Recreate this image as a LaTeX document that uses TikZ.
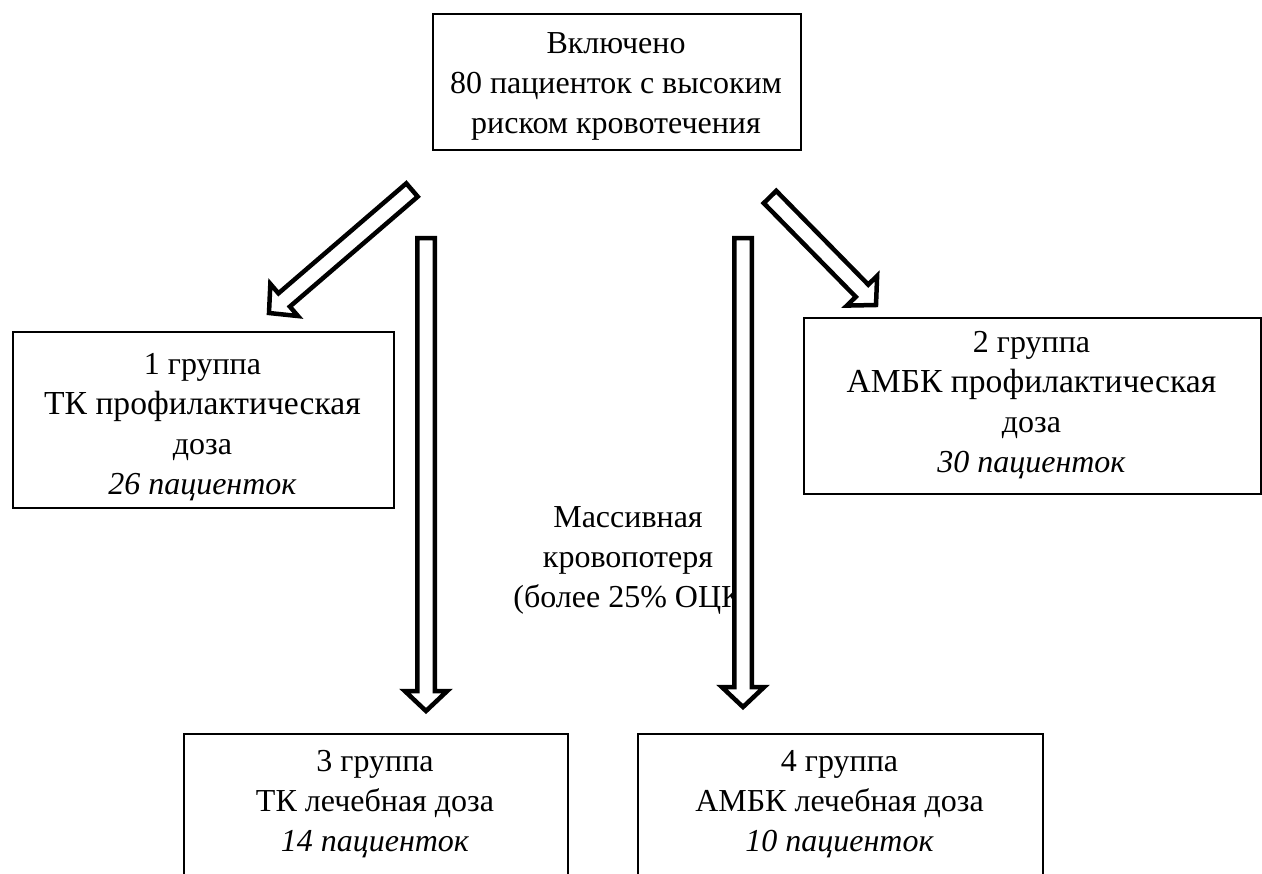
\documentclass[tikz,border=0pt]{standalone}
\usepackage{fontspec}
\setmainfont{Liberation Serif}
\usetikzlibrary{calc}
\tikzset{
  txt/.style={align=center, inner sep=0pt, font=\fontsize{16}{20}\selectfont},
  box/.style={draw, line width=1pt, anchor=north west, inner sep=0pt},
  barrow/.style={draw, fill=white, line width=2.25pt, miter limit=10},
}
\newcommand\bigline{\fontsize{16.8}{20}\selectfont}
\newcommand\bashaft{4.375pt}
\newcommand\bahead{10.6pt}
\newcommand\balen{10pt}
\newcommand\blockarr[2]{%
  \coordinate (hb) at ($(#2)!\balen!(#1)$);
  \draw[barrow] ($(#1)!\bashaft!90:(#2)$) -- ($(hb)!\bashaft!90:(#2)$) -- ($(hb)!\bahead!90:(#2)$) -- (#2) -- ($(hb)!\bahead!-90:(#2)$) -- ($(hb)!\bashaft!-90:(#2)$) -- ($(#1)!\bashaft!-90:(#2)$) -- cycle;}
\begin{document}
\begin{tikzpicture}[x=0.5pt, y=-0.5pt]
\useasboundingbox (0,0) rectangle (1262,873);
\clip (0,0) rectangle (1262,873);
% boxes
\node[box, minimum width=184pt, minimum height=68pt] (top) at (432,13) {};
\node[box, minimum width=190.5pt, minimum height=88pt] (g1) at (12,331) {};
\node[box, minimum width=228.5pt, minimum height=88pt] (g2) at (803,317) {};
\node[box, minimum width=192pt, minimum height=72pt] (g3) at (183,733) {};
\node[box, minimum width=202.5pt, minimum height=72pt] (g4) at (637,733) {};
% texts
\node[txt] (toptxt) at (616,86) {Включено\\80 пациенток с высоким\\риском кровотечения};
\node[txt] (g1txt) at (202.5,427) {1 группа\\{\bigline ТК профилактическая}\\доза\\\textit{26 пациенток}};
\node[txt] (g2txt) at (1031.5,405) {2 группа\\{\bigline АМБК профилактическая}\\доза\\\textit{30 пациенток}};
\node[txt] (g3txt) at (375,804) {3 группа\\ТК лечебная доза\\\textit{14 пациенток}};
\node[txt] (g4txt) at (839.5,804) {4 группа\\АМБК лечебная доза\\\textit{10 пациенток}};
\node[txt] (lbl) at (628,560) {Массивная\\кровопотеря\\(более 25\% ОЦК};
% block arrows
\coordinate (a1s) at (412,190); \coordinate (a1e) at (269,313);
\coordinate (a2s) at (426,238); \coordinate (a2e) at (426,711);
\coordinate (a3s) at (743,238); \coordinate (a3e) at (743,707);
\coordinate (a4s) at (770,197); \coordinate (a4e) at (876,305);
\blockarr{a1s}{a1e}
\blockarr{a2s}{a2e}
\blockarr{a3s}{a3e}
\blockarr{a4s}{a4e}
\end{tikzpicture}
\end{document}
